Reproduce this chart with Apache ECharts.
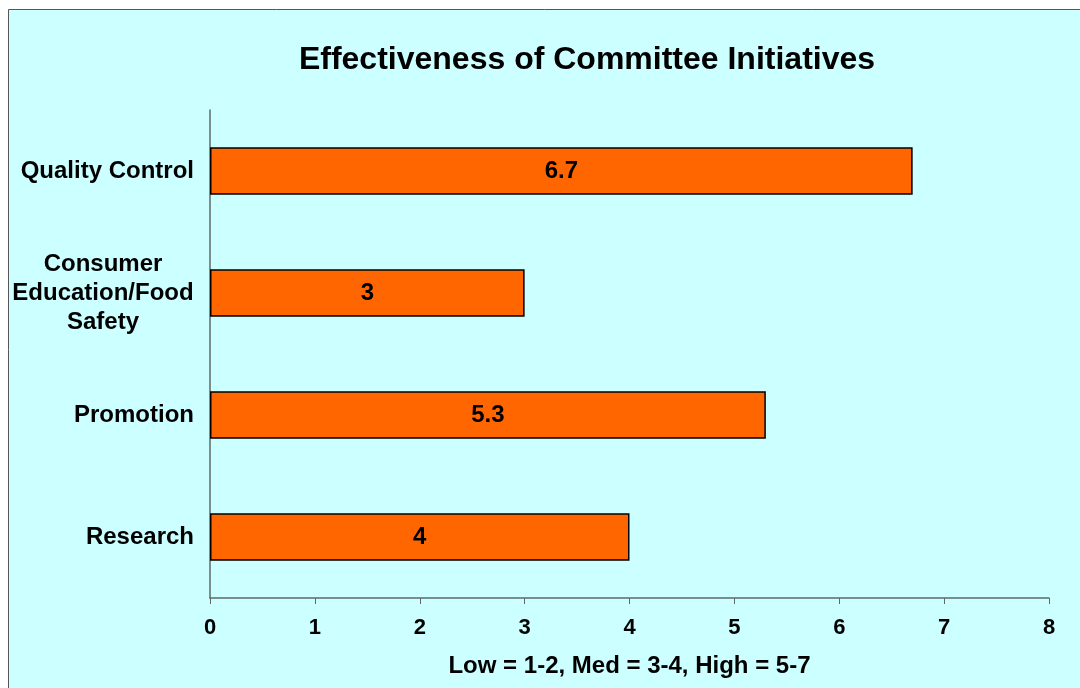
<!DOCTYPE html>
<html>
<head>
<meta charset="utf-8">
<script src="https://cdn.jsdelivr.net/npm/echarts@6/dist/echarts.min.js"></script>
<style>
html,body{margin:0;padding:0;background:#fff;}
#c{width:1080px;height:688px;}
</style>
</head>
<body>
<div id="c"></div>
<script>
const categories = ['Quality Control', 'Consumer\nEducation/Food\nSafety', 'Promotion', 'Research'];
const values = [6.7, 3, 5.3, 4];
const xTicks = [0, 1, 2, 3, 4, 5, 6, 7, 8];
const titleText = 'Effectiveness of Committee Initiatives';
const xAxisName = 'Low = 1-2, Med = 3-4, High = 5-7';

const FONT = 'Liberation Sans, Arial, sans-serif';
const chart = echarts.init(document.getElementById('c'));
chart.setOption({
  backgroundColor: '#ffffff',
  animation: false,
  graphic: [{
    type: 'rect', z: -10, silent: true,
    shape: { x: 8.5, y: 9.5, width: 1200, height: 800 },
    style: { fill: '#CCFFFF', stroke: '#555555', lineWidth: 1 }
  }],
  title: {
    text: titleText, left: 582, top: 39, textAlign: 'center',
    textStyle: { fontFamily: FONT, fontWeight: 'bold', fontSize: 32, color: '#000' }
  },
  grid: { left: 210, right: 31, top: 110, bottom: 90, containLabel: false },
  xAxis: {
    type: 'value', min: xTicks[0], max: xTicks[xTicks.length - 1], interval: 1,
    name: xAxisName, nameLocation: 'middle', nameGap: 56,
    nameTextStyle: { fontFamily: FONT, fontWeight: 'bold', fontSize: 24, color: '#000' },
    axisLine: { show: true, lineStyle: { color: '#606868', width: 1.5 } },
    axisTick: { show: true, length: 6, lineStyle: { color: '#606868' } },
    splitLine: { show: false },
    axisLabel: { margin: 19, fontFamily: FONT, fontWeight: 'bold', fontSize: 22, color: '#000' }
  },
  yAxis: {
    type: 'category', data: categories, inverse: true,
    axisLine: { show: true, lineStyle: { color: '#606868', width: 1.5 } },
    axisTick: { show: false },
    axisLabel: {
      margin: 16, align: 'right', lineHeight: 29,
      fontFamily: FONT, fontWeight: 'bold', fontSize: 24, color: '#000',
      formatter: function (v) {
        if (v.indexOf('\n') < 0) return v;
        return v.split('\n').map(function (s) { return '{m|' + s + '}'; }).join('\n');
      },
      rich: {
        m: { width: 182, align: 'center', lineHeight: 29, fontFamily: FONT, fontWeight: 'bold', fontSize: 24, color: '#000' }
      }
    }
  },
  series: [{
    type: 'bar', data: values, barWidth: '39%',
    itemStyle: { color: '#FF6600', borderColor: '#000', borderWidth: 1.5 },
    label: { show: true, position: 'inside', fontFamily: FONT, fontWeight: 'bold', fontSize: 24, color: '#000' }
  }]
});
</script>
</body>
</html>
